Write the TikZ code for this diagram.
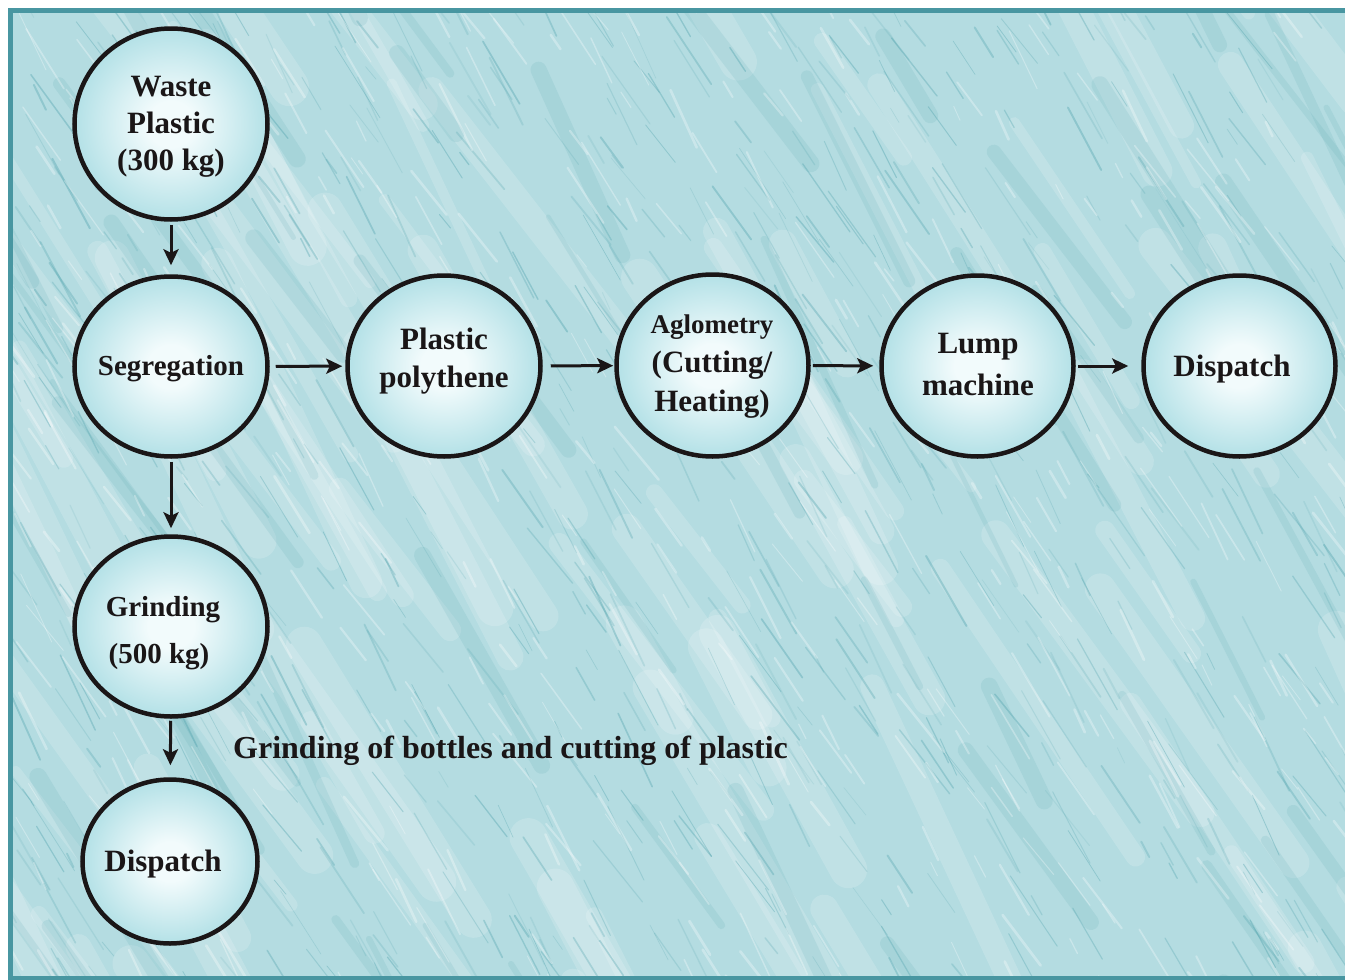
\documentclass[tikz,border=0pt]{standalone}
\usepackage{fontspec}
\setmainfont{Liberation Serif}
\usetikzlibrary{arrows.meta,shapes.geometric}
\definecolor{bgbase}{HTML}{B4DCE1}
\definecolor{streak}{HTML}{4A9FAA}
\definecolor{framec}{HTML}{4896A1}
\definecolor{cin}{HTML}{F2FBFC}
\definecolor{cmid}{HTML}{A3DAE1}
\definecolor{cout}{HTML}{5ABDC9}
\definecolor{ink}{HTML}{1A1617}
\pgfdeclareradialshading{ballsh}{\pgfpoint{0bp}{0bp}}{color(0bp)=(cin); color(6bp)=(cin); color(30bp)=(cmid); color(50bp)=(cout)}
\tikzset{
  proc/.style={ellipse, draw=ink, line width=4.5pt, shading=ballsh, inner sep=0pt},
  txt/.style={font=\fontsize{31}{37}\selectfont\bfseries, text=ink, align=center, inner sep=0pt},
  lbl/.style={font=\fontsize{32}{38}\selectfont\bfseries, text=ink, inner sep=0pt},
  flow/.style={draw=ink, line width=3pt, -{Stealth[length=16pt,width=15pt,inset=3.5pt]}},
}
\begin{document}
\begin{tikzpicture}[x=1pt,y=-1pt]
\useasboundingbox (0,0) rectangle (1345,980);
\fill[white] (0,0) rectangle (1345,980);
% textured background
\begin{scope}
\clip (10,10) rectangle (1345,978);
\fill[bgbase] (0,0) rectangle (1345,980);
\pgfmathsetseed{4242}
\foreach \i in {1,...,110}{
  \pgfmathsetmacro\xx{rnd*1500-100}
  \pgfmathsetmacro\yy{rnd*1150-150}
  \pgfmathsetmacro\ll{100+rnd*260}
  \pgfmathsetmacro\aa{52+rnd*14}
  \pgfmathsetmacro\ww{10+rnd*30}
  \draw[white, opacity=0.16, line width=\ww pt, line cap=round] (\xx,\yy) -- ++(\aa:\ll);
}
\foreach \i in {1,...,70}{
  \pgfmathsetmacro\xx{rnd*1500-100}
  \pgfmathsetmacro\yy{rnd*1150-150}
  \pgfmathsetmacro\ll{80+rnd*220}
  \pgfmathsetmacro\aa{52+rnd*14}
  \pgfmathsetmacro\ww{4+rnd*14}
  \draw[streak, opacity=0.13, line width=\ww pt, line cap=round] (\xx,\yy) -- ++(\aa:\ll);
}
\foreach \i in {1,...,800}{
  \pgfmathsetmacro\xx{rnd*1450-60}
  \pgfmathsetmacro\yy{rnd*1080-80}
  \pgfmathsetmacro\ll{15+rnd*70}
  \pgfmathsetmacro\aa{50+rnd*16}
  \pgfmathsetmacro\ww{0.6+rnd*1.4}
  \pgfmathsetmacro\oo{0.12+rnd*0.25}
  \draw[streak, opacity=\oo, line width=\ww pt, line cap=round] (\xx,\yy) -- ++(\aa:\ll);
}
\foreach \i in {1,...,500}{
  \pgfmathsetmacro\xx{rnd*1450-60}
  \pgfmathsetmacro\yy{rnd*1080-80}
  \pgfmathsetmacro\ll{15+rnd*60}
  \pgfmathsetmacro\aa{50+rnd*16}
  \pgfmathsetmacro\ww{0.8+rnd*2}
  \draw[white, opacity=0.3, line width=\ww pt, line cap=round] (\xx,\yy) -- ++(\aa:\ll);
}
\end{scope}
\draw[framec, line width=5pt] (10.5,10) rectangle (1360,978.5);
% process circles
\node[proc, minimum width=193pt, minimum height=191pt] (waste) at (171,124) {};
\node[proc, minimum width=193pt, minimum height=180pt] (seg) at (171,366.5) {};
\node[proc, minimum width=193pt, minimum height=181pt] (plast) at (444,366) {};
\node[proc, minimum width=192pt, minimum height=182pt] (aglo) at (712.5,365.5) {};
\node[proc, minimum width=192pt, minimum height=181pt] (lump) at (977.5,366) {};
\node[proc, minimum width=192pt, minimum height=181pt] (dispr) at (1239.5,366) {};
\node[proc, minimum width=193pt, minimum height=180pt] (grind) at (171,626.5) {};
\node[proc, minimum width=175pt, minimum height=164pt] (dispb) at (170,861.5) {};
% texts
\node[txt] (waste-t) at (171,127) {Waste\\Plastic\\(300 kg)};
\node[txt, font=\fontsize{29}{35}\selectfont\bfseries] (seg-t) at (171,369) {Segregation};
\node[txt, font=\fontsize{31}{38}\selectfont\bfseries] (plast-t) at (444,361) {Plastic\\polythene};
\node[txt, font=\fontsize{31}{39}\selectfont\bfseries] (aglo-t) at (712,367) {{\fontsize{27}{39}\selectfont Aglometry}\\(Cutting/\\Heating)};
\node[txt, font=\fontsize{31}{42}\selectfont\bfseries] (lump-t) at (978,364) {Lump\\machine};
\node[txt] (dispr-t) at (1232,369) {Dispatch};
\node[txt, font=\fontsize{29}{47}\selectfont\bfseries] (grind-t) at (163,633) {Grinding\\\hspace*{-8pt}(500 kg)};
\node[txt] (dispb-t) at (163,864) {Dispatch};
\node[lbl, anchor=west] (note) at (233,751) {Grinding of bottles and cutting of plastic};
% flows
\draw[flow, shorten <=3pt, shorten >=9pt] (waste) -- (seg);
\draw[flow, shorten <=3pt, shorten >=6pt] (seg) -- (grind);
\draw[flow, shorten <=2pt, shorten >=12pt] (grind) -- (dispb);
\draw[flow, shorten <=6pt, shorten >=3pt] (seg) -- (plast);
\draw[flow, shorten <=8pt, shorten >=1pt] (plast) -- (aglo);
\draw[flow, shorten <=2pt, shorten >=6pt] (aglo) -- (lump);
\draw[flow, shorten <=2pt, shorten >=13pt] (lump) -- (dispr);
\end{tikzpicture}
\end{document}
